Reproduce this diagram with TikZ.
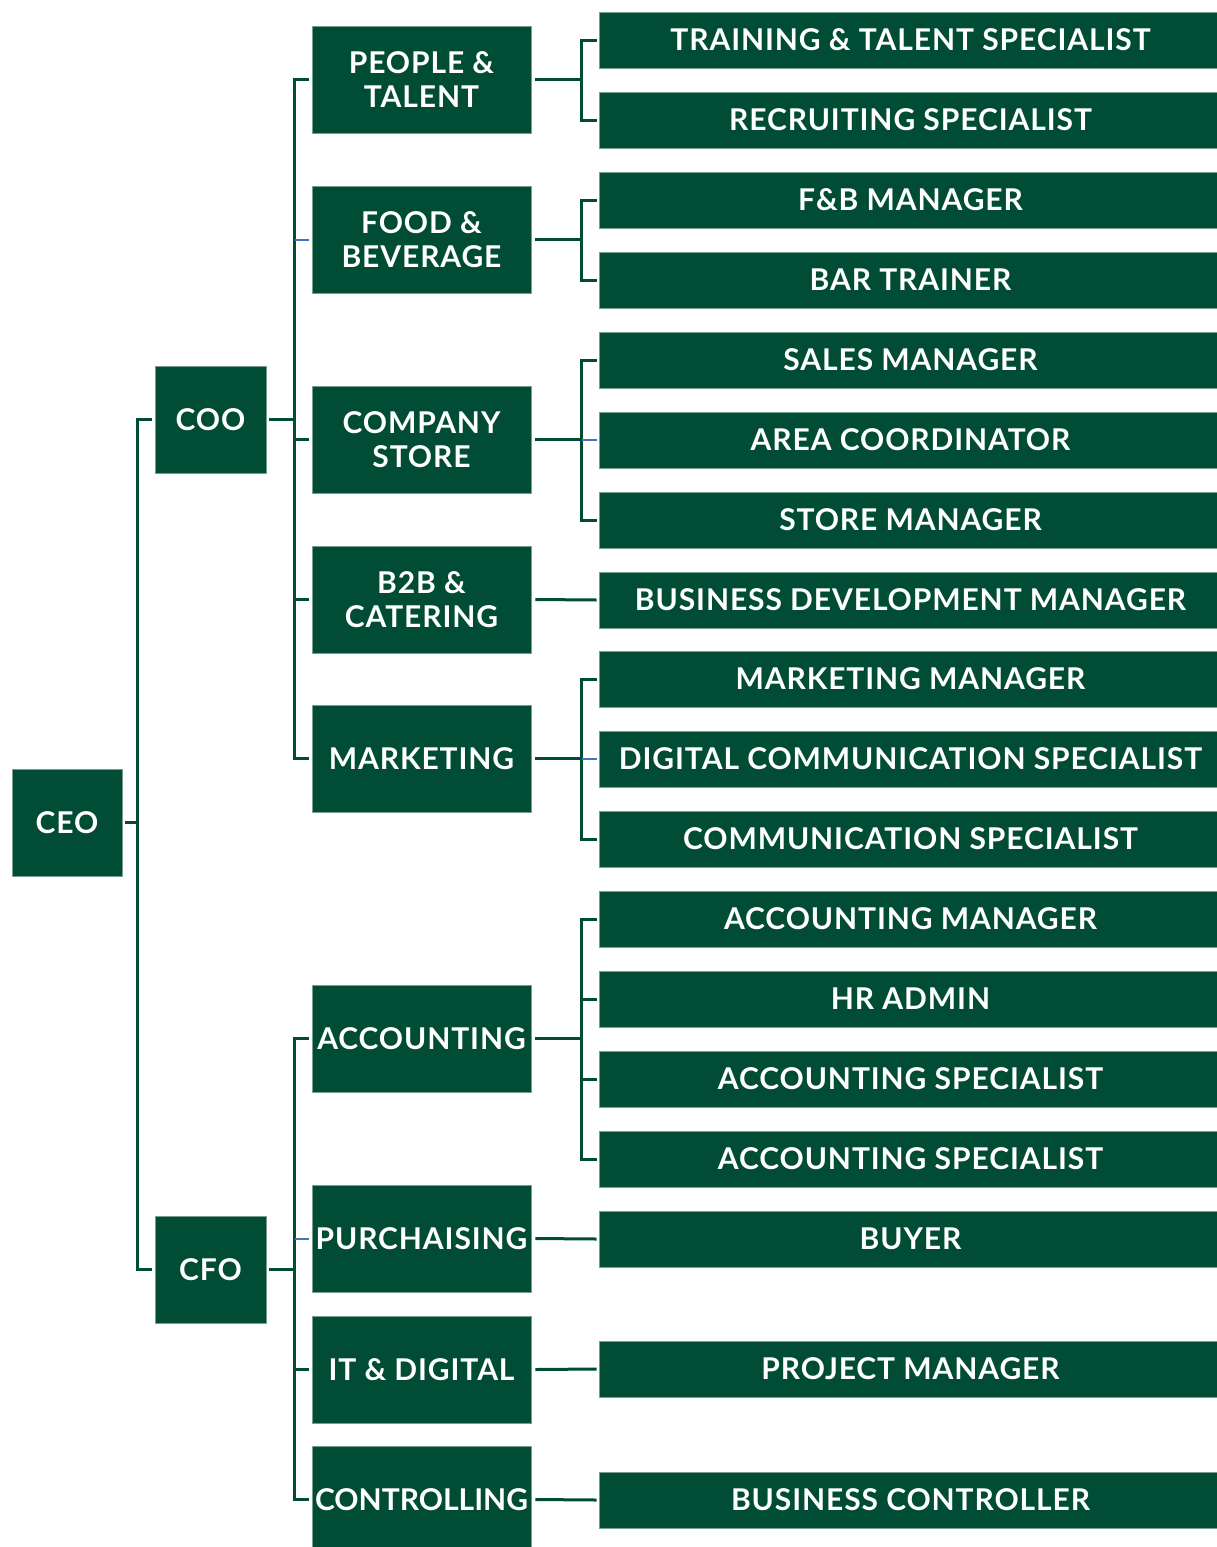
\documentclass[tikz,border=0pt]{standalone}
\usepackage{fontspec}
\setmainfont{Lato}[LetterSpace=3.0]
\usetikzlibrary{calc}
\definecolor{dg}{RGB}{1,76,52}
\definecolor{edgeg}{RGB}{120,158,140}
\definecolor{bluestub}{RGB}{68,114,196}
\tikzset{
  box/.style={fill=dg, draw=edgeg, line width=0.8pt, text=white, inner sep=0pt, align=center,
    font=\fontsize{30}{34}\selectfont\bfseries},
  topbox/.style={box, minimum width=110pt, minimum height=107pt},
  midbox/.style={box, minimum width=219pt, minimum height=107pt},
  leafbox/.style={box, minimum width=623pt, minimum height=56pt},
  conn/.style={draw=dg, line width=3pt},
  bconn/.style={draw=bluestub, line width=2pt},
}
\begin{document}
\begin{tikzpicture}[x=1pt,y=-1pt]
\useasboundingbox (0,0) rectangle (1216,1547);
% level 1
\node[topbox] (ceo) at (67,822.5) {CEO};
\node[topbox, minimum width=111pt] (coo) at (210.5,419.5) {COO};
\node[topbox, minimum width=111pt] (cfo) at (210.5,1269.5) {CFO};
% level 2
\node[midbox] (pt) at (421.5,79.5) {PEOPLE \&\\TALENT};
\node[midbox] (fb) at (421.5,239.5) {FOOD \&\\BEVERAGE};
\node[midbox] (cs) at (421.5,439.5) {COMPANY\\STORE};
\node[midbox] (bc) at (421.5,599.5) {B2B \&\\CATERING};
\node[midbox] (mk) at (421.5,758.5) {MARKETING};
\node[midbox] (ac) at (421.5,1038.5) {ACCOUNTING};
\node[midbox] (pu) at (421.5,1238.5) {PURCHAISING};
\node[midbox] (it) at (421.5,1369.5) {IT \& DIGITAL};
\node[midbox] (co) at (421.5,1499.5) {\addfontfeature{LetterSpace=0.0}CONTROLLING};
% level 3
\node[leafbox] (l1) at (910.5,40) {TRAINING \& TALENT SPECIALIST};
\node[leafbox] (l2) at (910.5,120) {RECRUITING SPECIALIST};
\node[leafbox] (l3) at (910.5,200) {F\&B MANAGER};
\node[leafbox] (l4) at (910.5,280) {BAR TRAINER};
\node[leafbox] (l5) at (910.5,360) {SALES MANAGER};
\node[leafbox] (l6) at (910.5,440) {AREA COORDINATOR};
\node[leafbox] (l7) at (910.5,520) {STORE MANAGER};
\node[leafbox] (l8) at (910.5,600) {BUSINESS DEVELOPMENT MANAGER};
\node[leafbox] (l9) at (910.5,679) {MARKETING MANAGER};
\node[leafbox] (l10) at (910.5,759) {DIGITAL COMMUNICATION SPECIALIST};
\node[leafbox] (l11) at (910.5,839) {COMMUNICATION SPECIALIST};
\node[leafbox] (l12) at (910.5,919) {ACCOUNTING MANAGER};
\node[leafbox] (l13) at (910.5,999) {HR ADMIN};
\node[leafbox] (l14) at (910.5,1079) {ACCOUNTING SPECIALIST};
\node[leafbox] (l15) at (910.5,1159) {ACCOUNTING SPECIALIST};
\node[leafbox] (l16) at (910.5,1239) {BUYER};
\node[leafbox] (l17) at (910.5,1369) {PROJECT MANAGER};
\node[leafbox] (l18) at (910.5,1500) {BUSINESS CONTROLLER};
% bus coordinates
\coordinate (b0) at (137,822.5);
\coordinate (b1) at (294,419.5);
\coordinate (b2) at (294,1269.5);
\coordinate (cpt) at (581,79.5);
\coordinate (cfb) at (581,239.5);
\coordinate (ccs) at (581,439.5);
\coordinate (cmk) at (581,758.5);
\coordinate (cac) at (581,1038.5);
% CEO
\draw[conn] ([xshift=3pt]ceo.east) -- (b0);
\draw[conn] ([xshift=-3pt]coo.west) -| (b0) |- ([xshift=-3pt]cfo.west);
% COO
\draw[conn] ([xshift=3pt]coo.east) -- (b1);
\draw[conn] ([xshift=-3pt]pt.west) -| (b1) |- ([xshift=-3pt]mk.west);
\draw[conn] ([xshift=-3pt]cs.west) -- (b1 |- cs.west);
\draw[conn] ([xshift=-3pt]bc.west) -- (b1 |- bc.west);
\draw[bconn] ([xshift=-3pt]fb.west) -- ([xshift=1pt]b1 |- fb.west);
% CFO
\draw[conn] ([xshift=3pt]cfo.east) -- (b2);
\draw[conn] ([xshift=-3pt]ac.west) -| (b2) |- ([xshift=-3pt]co.west);
\draw[conn] ([xshift=-3pt]it.west) -- (b2 |- it.west);
\draw[bconn] ([xshift=-3pt]pu.west) -- ([xshift=1pt]b2 |- pu.west);
% level 2 -> 3
\draw[conn] ([xshift=4pt]pt.east) -- (cpt);
\draw[conn] ([xshift=-2pt]l1.west) -| (cpt) |- ([xshift=-2pt]l2.west);
\draw[conn] ([xshift=4pt]fb.east) -- (cfb);
\draw[conn] ([xshift=-2pt]l3.west) -| (cfb) |- ([xshift=-2pt]l4.west);
\draw[conn] ([xshift=4pt]cs.east) -- (ccs);
\draw[conn] ([xshift=-2pt]l5.west) -| (ccs) |- ([xshift=-2pt]l7.west);
\draw[bconn] ([xshift=1pt]ccs |- l6.west) -- ([xshift=-2pt]l6.west);
\draw[conn] ([xshift=4pt]bc.east) -- ([xshift=-2pt]l8.west);
\draw[conn] ([xshift=4pt]mk.east) -- (cmk);
\draw[conn] ([xshift=-2pt]l9.west) -| (cmk) |- ([xshift=-2pt]l11.west);
\draw[bconn] ([xshift=1pt]cmk |- l10.west) -- ([xshift=-2pt]l10.west);
\draw[conn] ([xshift=4pt]ac.east) -- (cac);
\draw[conn] ([xshift=-2pt]l12.west) -| (cac) |- ([xshift=-2pt]l15.west);
\draw[conn] (cac |- l13.west) -- ([xshift=-2pt]l13.west);
\draw[conn] (cac |- l14.west) -- ([xshift=-2pt]l14.west);
\draw[conn] ([xshift=4pt]pu.east) -- ([xshift=-2pt]l16.west);
\draw[conn] ([xshift=4pt]it.east) -- ([xshift=-2pt]l17.west);
\draw[conn] ([xshift=4pt]co.east) -- ([xshift=-2pt]l18.west);
\end{tikzpicture}
\end{document}
